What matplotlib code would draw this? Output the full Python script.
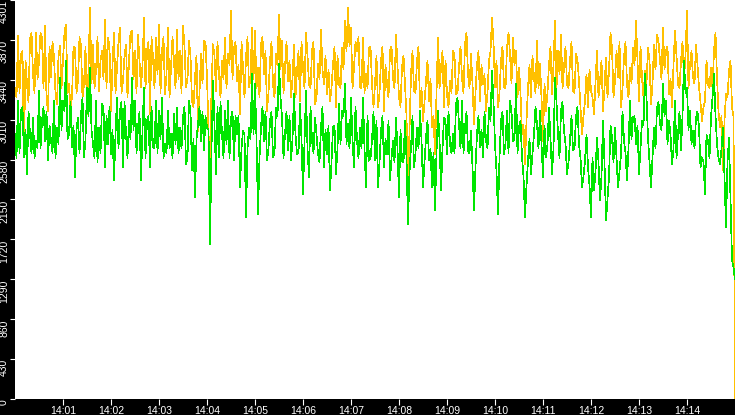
import matplotlib
matplotlib.use("Agg")
import matplotlib.pyplot as plt
import numpy as np

plt.rcParams['font.family'] = ['Liberation Sans', 'DejaVu Sans']

# 数据: 主采样点每 3.75 秒一个 (14:00:00 - 14:15:00)
orange = [
    3357, 3913, 3716, 2712, 3393, 3877, 3501, 3949, 3644, 3895,
    4020, 3107, 3465, 3680, 3178, 3805, 3644, 4038, 3393, 3250,
    3787, 3429, 3805, 3393, 3071, 4217, 3823, 3537, 3322, 3752,
    4092, 3895, 3107, 3949, 3572, 4002, 3429, 3823, 3644, 3966,
    3752, 3930, 3357, 4110, 3752, 3071, 3680, 3895, 4038, 3752,
    3286, 4002, 3572, 3644, 3984, 3752, 4020, 3357, 3859, 3214,
    3465, 2892, 3716, 3859, 3465, 2247, 3823, 3322, 3501, 3644,
    3895, 3716, 4182, 3787, 3429, 3071, 3572, 3680, 3357, 4002,
    3966, 3572, 3823, 3501, 3107, 3644, 3393, 3716, 4146, 3859,
    3572, 3429, 3250, 3823, 3537, 3214, 3572, 3949, 3393, 3752,
    3178, 3608, 3984, 3393, 3286, 3214, 3608, 3142, 3393, 3787,
    4074, 4217, 4002, 3572, 3752, 3357, 3895, 3501, 3787, 3393,
    3393, 3142, 3644, 3107, 3393, 3752, 3465, 3930, 3250, 3572,
    3393, 2282, 3501, 3322, 3644, 3142, 2999, 3429, 3214, 2927,
    2641, 3895, 3572, 3142, 3286, 3429, 3752, 3286, 3572, 3465,
    3823, 3501, 3716, 2963, 3608, 3214, 3393, 3107, 3644, 4110,
    3357, 3142, 3644, 3357, 3787, 3716, 3895, 3752, 3572, 2856,
    2533, 3357, 3250, 3465, 3859, 3608, 2784, 3107, 3608, 3286,
    4074, 3752, 3930, 3572, 3393, 3644, 3322, 3716, 3429, 2856,
    3214, 3142, 3322, 3071, 3752, 3429, 3107, 3680, 3537, 3787,
    3429, 3465, 3142, 3680, 3393, 3572, 3787, 4074, 3214, 3465,
    3537, 3787, 3178, 3823, 3930, 3644, 4002, 3752, 3286, 3142,
    3966, 3393, 3644, 3465, 4182, 3608, 3465, 3823, 3357, 2999,
    3214, 3393, 3572, 3752, 3465, 2927, 2462, 3286, 3537, 3142,
    0,
]
# 主采样点之间的中间值
orange_mid = [
    3250, 3300, 3750, 3650, 3200, 3950, 3300, 3450, 3950, 3350,
    3250, 3800, 3850, 3300, 3700, 3350, 3950, 3300, 3150, 3800,
    3300, 3900, 3250, 3800, 3550, 3400, 3350, 3900, 3650, 3450,
    3350, 3800, 3600, 3300, 3850, 3300, 3700, 3250, 3950, 3450,
    3300, 3650, 3600, 3350, 3850, 3900, 3350, 3500, 3300, 3900,
    3500, 3250, 3900, 3350, 3450, 3300, 3800, 3450, 3700, 3150,
    3700, 3300, 3400, 3850, 2900, 3350, 3700, 3850, 3250, 3450,
    3350, 3600, 3450, 3850, 3600, 3850, 3250, 3900, 3450, 3450,
    3350, 3250, 3900, 3750, 3300, 3850, 3250, 3600, 3550, 3300,
    3850, 3650, 3450, 3250, 3750, 3850, 3350, 3700, 3350, 3850,
    3250, 3450, 3550, 3700, 3550, 3350, 3800, 3700, 3350, 3550,
    3750, 3800, 3350, 3850, 3900, 3350, 3300, 3350, 3800, 3150,
    3700, 3300, 3800, 3600, 3250, 3800, 3350, 3600, 3150, 3700,
    3050, 2900, 3750, 3300, 3800, 3350, 3200, 3650, 3450, 3050,
    3300, 3350, 3750, 3650, 3150, 3300, 3700, 3300, 3800, 3300,
    3950, 3350, 3400, 3300, 3750, 3600, 3500, 3300, 3750, 3850,
    3650, 3300, 3800, 3350, 3950, 3400, 3600, 3250, 3300, 2950,
    3000, 3600, 3700, 3300, 3350, 3250, 3400, 3300, 3800, 3600,
    3350, 3500, 3350, 3800, 3350, 3850, 3300, 3650, 3150, 3050,
    3500, 3550, 3250, 3400, 3250, 3650, 3350, 3250, 3950, 3250,
    3750, 3850, 3350, 3850, 3250, 3400, 3600, 3650, 3800, 3250,
    3400, 3650, 3400, 3550, 3850, 3450, 3550, 3800, 3450, 3600,
    3700, 3350, 3850, 3700, 3350, 3750, 3400, 3600, 3200, 3150,
    3650, 3350, 3350, 3950, 3100, 3050, 3000, 3250, 3650, 3050,
]
green = [
    2856, 3214, 3107, 2605, 2426, 2856, 3035, 2784, 3322, 2999,
    2784, 2569, 2784, 3214, 2927, 3465, 3214, 3644, 2856, 2713,
    2390, 3035, 3071, 2605, 3357, 3572, 2748, 3214, 2927, 3178,
    2498, 2748, 2641, 2354, 3250, 3107, 2498, 2856, 2999, 3465,
    3214, 2927, 2354, 3357, 2999, 2498, 2713, 3214, 3107, 3250,
    2748, 3107, 2856, 3071, 3142, 2927, 3035, 2533, 3214, 2462,
    2175, 2963, 2784, 2677, 2927, 1673, 3429, 2426, 2605, 2856,
    3107, 3214, 3035, 2569, 2856, 2282, 2892, 1960, 2927, 3501,
    3393, 1996, 2927, 2784, 2569, 2999, 2605, 3142, 3608, 3035,
    2856, 2677, 2569, 3286, 2641, 3178, 2211, 3322, 2390, 2784,
    3035, 2641, 2927, 2498, 2641, 2247, 2927, 2426, 3178, 3107,
    3393, 2963, 3250, 2498, 2784, 2927, 3250, 2282, 2569, 2784,
    2569, 2282, 2892, 2498, 2641, 2354, 2784, 3035, 2175, 2569,
    2999, 1888, 2713, 2498, 2927, 3107, 2282, 2820, 2569, 2282,
    2032, 3107, 2247, 3035, 2641, 2748, 2856, 3178, 2963, 3214,
    2927, 2677, 2892, 2032, 2856, 2713, 2605, 2784, 3142, 3537,
    2748, 1996, 2999, 2641, 3107, 3214, 2784, 3393, 2927, 2605,
    1960, 2569, 2426, 2856, 2963, 3107, 2390, 2605, 3142, 2426,
    3465, 2856, 3107, 2892, 2426, 2784, 2677, 3035, 2748, 2282,
    2569, 2498, 1960, 2247, 2820, 2139, 2999, 1924, 2390, 2820,
    2927, 2282, 2641, 2784, 2354, 3214, 3035, 2748, 2426, 2999,
    3501, 2820, 2282, 2927, 3142, 2963, 3393, 3214, 2999, 2533,
    3214, 2856, 2677, 3644, 3357, 3107, 2892, 3035, 2927, 2605,
    2211, 2784, 3035, 3501, 2748, 2533, 2927, 1852, 2820, 1500,
    1290,
]
green_mid = [
    2600, 2650, 3150, 2900, 3100, 2650, 2600, 2700, 2700, 3150,
    3100, 2950, 2650, 2600, 2750, 2900, 3100, 2800, 3200, 2950,
    2900, 2650, 3250, 2800, 3050, 2900, 2600, 2550, 2650, 3150,
    3050, 3150, 2900, 2850, 2700, 3200, 3200, 2600, 2800, 2900,
    2650, 3100, 2900, 2600, 3050, 3150, 2700, 2650, 2800, 2600,
    2650, 2700, 2600, 2750, 2650, 2700, 3150, 2600, 3100, 2800,
    2800, 3150, 3100, 3050, 2900, 2700, 2950, 3150, 3200, 2600,
    2750, 2600, 3100, 3050, 3050, 2700, 2850, 2700, 2800, 2850,
    2800, 2600, 3150, 3100, 2700, 3100, 2650, 3050, 3250, 2600,
    3100, 3050, 2800, 2850, 2650, 2800, 2750, 2700, 3150, 2650,
    2850, 2550, 3150, 2900, 2950, 2550, 2950, 2700, 2750, 3050,
    2750, 2700, 2800, 3150, 2600, 2700, 2700, 3050, 2600, 3100,
    3000, 2550, 3050, 2800, 3000, 2600, 2550, 2700, 2900, 2550,
    2600, 2450, 3050, 2650, 2700, 2800, 2550, 3000, 2700, 2650,
    2650, 2800, 2700, 3000, 3100, 2650, 2650, 3250, 2700, 2650,
    3100, 2650, 2500, 2500, 3050, 2900, 3100, 2700, 3000, 3200,
    2450, 2600, 3100, 2750, 2650, 3100, 2800, 2650, 3000, 2400,
    2300, 2800, 2650, 3150, 2700, 2750, 2950, 2750, 2800, 2700,
    3200, 2600, 3200, 2750, 2550, 3050, 2700, 3150, 2600, 2400,
    2850, 2300, 2600, 2450, 2550, 2400, 2550, 2150, 2950, 2550,
    2600, 2450, 3100, 2650, 2700, 2800, 3050, 2950, 2700, 2950,
    3250, 2550, 2600, 2700, 3200, 2900, 3050, 2750, 2850, 2700,
    2600, 3100, 3050, 3300, 2900, 2750, 2700, 3100, 2500, 2550,
    2850, 2600, 3250, 3050, 2600, 2700, 2400, 2550, 2150, 1420,
]
y_ticks = [0, 430.1, 860.2, 1290.3, 1720.4, 2150.5, 2580.6, 3010.7, 3440.8, 3870.9, 4301]
y_labels = ["0", "430", "860", "1290", "1720", "2150", "2580", "3010", "3440", "3870", "4301"]
x_ticks = [60 * m for m in range(1, 15)]
x_labels = ["14:%02d" % m for m in range(1, 15)]


def merge(main, mid):
    out = np.empty(len(main) + len(mid))
    out[0::2] = main
    out[1::2] = mid
    return out


y_orange = merge(orange, orange_mid)
y_green = merge(green, green_mid)
t = np.arange(len(y_orange)) * 1.875
t[-1] = 900

fig = plt.figure(figsize=(7.35, 4.15), dpi=100, facecolor="black")
ax = fig.add_axes([15 / 735, 16 / 415, 720 / 735, 399 / 415])
ax.set_facecolor("white")

ax.plot(t, y_orange, color="#ffc000", lw=0.5, antialiased=False)
ax.plot(t, y_green, color="#00e600", lw=0.5, antialiased=False)

ax.set_xlim(0, 900)
ax.set_ylim(0, 4301)
ax.set_yticks(y_ticks)
ax.set_yticklabels(y_labels, rotation=90, va="top", ha="right")
ax.set_xticks(x_ticks)
ax.set_xticklabels(x_labels)
ax.tick_params(axis="y", colors="white", labelsize=7.5, length=3.6, pad=0.7)
ax.tick_params(axis="x", colors="white", labelsize=7.5, length=4.3, pad=0.7)
for s in ax.spines.values():
    s.set_visible(False)

fig.savefig("out.png", dpi=100, facecolor="black")
